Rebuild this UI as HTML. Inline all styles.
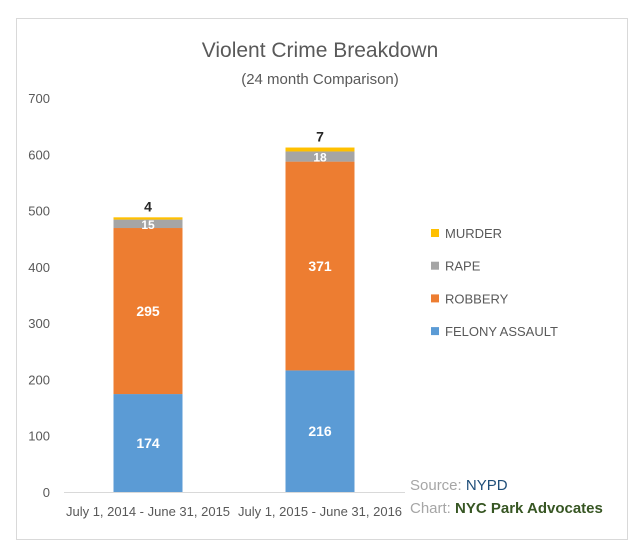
<!DOCTYPE html>
<html><head><meta charset="utf-8"><style>
html,body{margin:0;padding:0;background:#fff;font-family:"Liberation Sans",sans-serif;overflow:hidden}
svg{display:block}
</style></head><body>
<svg width="640" height="552" xmlns="http://www.w3.org/2000/svg" font-family="Liberation Sans, sans-serif">
<rect x="16.5" y="18.5" width="611" height="521" fill="#fff" stroke="#d9d9d9"/>
<text x="320" y="57" text-anchor="middle" font-size="21" fill="#595959">Violent Crime Breakdown</text>
<text x="320" y="84" text-anchor="middle" font-size="15" fill="#595959">(24 month Comparison)</text>
<g id="axis"></g><g id="bars"></g><g id="legend"></g>
<text x="410" y="490" font-size="15" fill="#a6a6a6">Source: <tspan fill="#1f4e79">NYPD</tspan></text>
<text x="410" y="513" font-size="15" fill="#a6a6a6">Chart: <tspan fill="#375623" font-weight="bold">NYC Park Advocates</tspan></text>
</svg>
<script>
const categories=["July 1, 2014 - June 31, 2015","July 1, 2015 - June 31, 2016"];
const seriesNames=["FELONY ASSAULT","ROBBERY","RAPE","MURDER"];
const felony=[174,216];
const robbery=[295,371];
const rape=[15,18];
const murder=[4,7];
const ticks=[0,100,200,300,400,500,600,700];
const colors=["#5b9bd5","#ed7d31","#a5a5a5","#ffc000"];
const NS="http://www.w3.org/2000/svg";
const y0=492,pxPer=(492-98)/700;
const y=v=>y0-v*pxPer;
const xc=i=>148+i*172, bw=69;
function mk(t,a,p){const e=document.createElementNS(NS,t);for(const k in a)e.setAttribute(k,a[k]);p.appendChild(e);return e;}
const ax=document.getElementById('axis');
ticks.forEach(t=>{const e=mk('text',{x:50,y:y(t)+5,'text-anchor':'end','font-size':13,fill:'#595959'},ax);e.textContent=t;

});
const ln=mk('line',{x1:64,x2:405,y1:y0+0.5,y2:y0+0.5,stroke:'#d9d9d9'},ax);


categories.forEach((c,i)=>{const e=mk('text',{x:xc(i),y:516,'text-anchor':'middle','font-size':13,fill:'#595959'},ax);e.textContent=c;

});
const bars=document.getElementById('bars');
const series=[felony,robbery,rape,murder];
categories.forEach((c,i)=>{let base=0;series.forEach((s,k)=>{const v=s[i];
const r=mk('rect',{x:xc(i)-bw/2,y:y(base+v),width:bw,height:v*pxPer,fill:colors[k]},bars);


let ly,fill='#fff';
if(k==3){ly=y(base+v)-6;fill='#262626';}else ly=y(base+v/2)+5;
const t=mk('text',{x:xc(i),y:ly,'text-anchor':'middle','font-size':k==2?12:14,'font-weight':'bold',fill:fill},bars);t.textContent=v;


base+=v;});});
const lg=document.getElementById('legend');
[3,2,1,0].forEach((k,j)=>{const yy=233+j*32.7;
const r=mk('rect',{x:431,y:yy-4,width:8,height:8,fill:colors[k]},lg);


const t=mk('text',{x:445,y:yy+5,'font-size':13,fill:'#595959'},lg);t.textContent=seriesNames[k];

});
</script>
</body></html>
